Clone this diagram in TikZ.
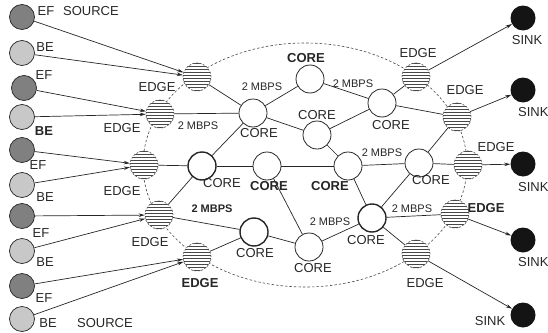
\documentclass[tikz,border=0pt]{standalone}
\usepackage{fontspec}
\setmainfont{Liberation Sans}
\usetikzlibrary{arrows.meta}
\definecolor{ink}{HTML}{262626}
\definecolor{efgray}{HTML}{808080}
\definecolor{begray}{HTML}{C8C8C8}

\begin{document}
\begin{tikzpicture}[x=1pt,y=-1pt,
  lbl/.style={font=\fontsize{13}{13}\selectfont, text=ink, inner sep=0},
  lblb/.style={lbl, font=\fontsize{13}{13}\selectfont\bfseries},
  rate/.style={font=\fontsize{11}{11}\selectfont, text=ink, inner sep=0},
  rateb/.style={rate, font=\fontsize{11}{11}\selectfont\bfseries},
  core/.style={circle, draw=ink, line width=0.8pt, fill=white, minimum size=28pt, inner sep=0},
  corethick/.style={core, line width=1.4pt},
  edgenode/.style={circle, draw=ink!85, dash pattern=on 2pt off 1.5pt, line width=0.6pt,
    minimum size=28pt, inner sep=0, fill=white,
    path picture={
      \foreach \h in {-13.5,-10.5,...,13.6}
        \draw[solid, line width=1.2pt, ink!85]
          ([xshift=-15pt,yshift=\h pt]path picture bounding box.center)
          -- ++(30pt,0pt);
    }},
  src/.style={circle, draw=ink, line width=0.7pt, minimum size=25pt, inner sep=0},
  ef/.style={src, fill=efgray},
  be/.style={src, fill=begray},
  sinknode/.style={circle, fill=black!92, minimum size=25pt, inner sep=0},
  link/.style={draw=ink, line width=0.7pt},
  flow/.style={draw=ink, line width=0.7pt, -{Stealth[length=6pt,width=3.5pt]}},
  boundary/.style={draw=ink!85, dash pattern=on 2.5pt off 2pt, line width=0.6pt}
]
\useasboundingbox (0,0) rectangle (548,332);

% domain boundary
\draw[boundary] (305,165) ellipse [x radius=162pt, y radius=122pt];

% sources
\node[ef] (s1) at (22,17) {};
\node[be] (s2) at (22,53) {};
\node[ef] (s3) at (24,88) {};
\node[be] (s4) at (22,117) {};
\node[ef] (s5) at (22,150) {};
\node[be] (s6) at (22,185) {};
\node[ef] (s7) at (22,216) {};
\node[be] (s8) at (22,251) {};
\node[ef] (s9) at (22,286) {};
\node[be] (s10) at (22,319) {};

% edge routers
\node[edgenode] (e1) at (197,77) {};
\node[edgenode] (e2) at (160,114) {};
\node[edgenode] (e3) at (144,165) {};
\node[edgenode] (e4) at (159,215) {};
\node[edgenode] (e5) at (197,257) {};
\node[edgenode] (e6) at (416,77) {};
\node[edgenode] (e7) at (457,117) {};
\node[edgenode] (e8) at (468,165) {};
\node[edgenode] (e9) at (455,214) {};
\node[edgenode] (e10) at (416,254) {};

% core routers
\node[core] (c1) at (310,79) {};
\node[core] (c2) at (253,113) {};
\node[core] (c3) at (317,135) {};
\node[core] (c4) at (382,103) {};
\node[corethick] (c5) at (202,166) {};
\node[core] (c6) at (267,166) {};
\node[core] (c7) at (348,166) {};
\node[core] (c8) at (419,163) {};
\node[corethick] (c9) at (254,232) {};
\node[core] (c10) at (309,247) {};
\node[corethick] (c11) at (372,218) {};

% sinks
\node[sinknode] (k1) at (523,18) {};
\node[sinknode] (k2) at (523,90) {};
\node[sinknode] (k3) at (523,164) {};
\node[sinknode] (k4) at (523,240) {};
\node[sinknode] (k5) at (523,315) {};

% traffic into the domain
\draw[flow] (s1) -- (e1);
\draw[flow] (s2) -- (e1);
\draw[flow] (s3) -- (e2);
\draw[flow] (s4) -- (e2);
\draw[flow] (s5) -- (e3);
\draw[flow] (s6) -- (e3);
\draw[flow] (s7) -- (e4);
\draw[flow] (s8) -- (e4);
\draw[flow] (s9) -- (e5);
\draw[flow] (s10) -- (e5);

% traffic out of the domain
\draw[flow] (e6) -- (k1);
\draw[flow] (e7) -- (k2);
\draw[flow] (e8) -- (k3);
\draw[flow] (e9) -- (k4);
\draw[flow] (e10) -- (k5);

% links
\draw[link] (e1) -- (c2);
\draw[link] (e2) -- (c2);
\draw[link] (c2) -- (c1);
\draw[link] (c2) -- (c3);
\draw[link] (c2) -- (c5);
\draw[link] (c1) -- (c4);
\draw[link] (c3) -- (c4);
\draw[link] (c3) -- (c7);
\draw[link] (c4) -- (e6);
\draw[link] (c4) -- (e7);
\draw[link] (e3) -- (c5);
\draw[link] (c5) -- (c6);
\draw[link] (c6) -- (c7);
\draw[link] (c7) -- (c8);
\draw[link] (c8) -- (e7);
\draw[link] (c8) -- (e8);
\draw[link] (c8) -- (c11);
\draw[link] (c7) -- (c11);
\draw[link] (c11) -- (e9);
\draw[link] (c11) -- (e10);
\draw[link] (c11) -- (c10);
\draw[link] (c10) -- (c6);
\draw[link] (c10) -- (c9);
\draw[link] (c9) -- (e5);
\draw[link] (c9) -- (e4);
\draw[link] (e4) -- (c5);

% source labels
\node[lbl] (t1) at (46,11) {EF};
\node[lbl] (t1s) at (91,11) {SOURCE};
\node[lbl] (t2) at (45,47) {BE};
\node[lbl] (t3) at (44,75) {EF};
\node[lblb] (t4) at (44,131) {BE};
\node[lbl] (t5) at (38,165) {EF};
\node[lbl] (t6) at (45,197) {BE};
\node[lbl] (t7) at (41,233) {EF};
\node[lbl] (t8) at (45,262) {BE};
\node[lbl] (t9) at (44,298) {EF};
\node[lbl] (t10) at (48,323) {BE};
\node[lbl] (t10s) at (105,323) {SOURCE};

% edge labels
\node[lbl] (le1) at (157,87) {EDGE};
\node[lbl] (le2) at (122,128) {EDGE};
\node[lbl] (le3) at (122,191) {EDGE};
\node[lbl] (le4) at (150,242) {EDGE};
\node[lblb] (le5) at (200,283) {EDGE};
\node[lbl] (le6) at (418,53) {EDGE};
\node[lbl] (le7) at (465,90) {EDGE};
\node[lbl] (le8) at (496,147) {EDGE};
\node[lblb] (le9) at (486,208) {EDGE};
\node[lbl] (le10) at (425,283) {EDGE};

% core labels
\node[lblb] (lc1) at (306,58) {CORE};
\node[lbl] (lc2) at (259,133) {CORE};
\node[lbl] (lc3) at (317,115) {CORE};
\node[lbl] (lc4) at (391,125) {CORE};
\node[lbl] (lc5) at (222,183) {CORE};
\node[lblb] (lc6) at (269,186) {CORE};
\node[lblb] (lc7) at (330,186) {CORE};
\node[lbl] (lc8) at (431,180) {CORE};
\node[lbl] (lc9) at (255,253) {CORE};
\node[lbl] (lc10) at (313,268) {CORE};
\node[lbl] (lc11) at (366,240) {CORE};

% sink labels
\node[lbl] (lk1) at (527,40) {SINK};
\node[lbl, anchor=west] (lk2) at (518,112) {SINK};
\node[lbl, anchor=west] (lk3) at (518,187) {SINK};
\node[lbl, anchor=west] (lk4) at (518,262) {SINK};
\node[lbl] (lk5) at (490,321) {SINK};

% link rates
\node[rate] (r1) at (198,126) {2 MBPS};
\node[rate] (r2) at (262,87) {2 MBPS};
\node[rate] (r3) at (353,84) {2 MBPS};
\node[rate] (r4) at (382,153) {2 MBPS};
\node[rateb] (r5) at (212,209) {2 MBPS};
\node[rate] (r6) at (330,222) {2 MBPS};
\node[rate] (r7) at (412,209) {2 MBPS};
\end{tikzpicture}
\end{document}
